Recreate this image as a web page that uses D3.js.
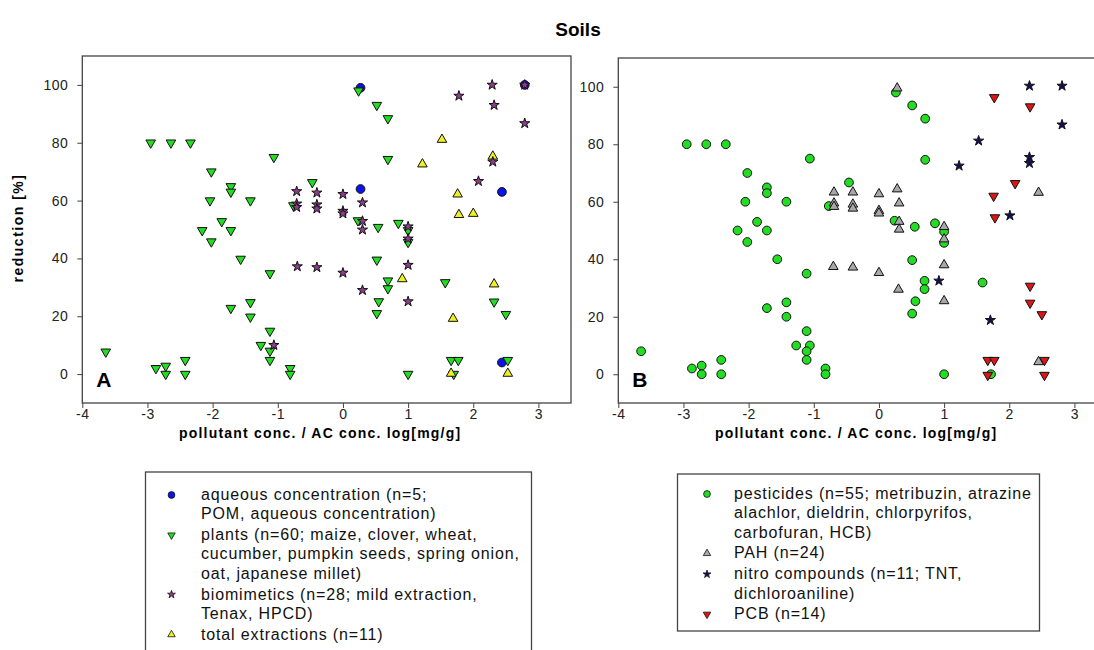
<!DOCTYPE html>
<html lang="en">
<head>
<meta charset="utf-8">
<title>Soils</title>
<style>
  body { margin: 0; background: #fff; }
  svg { display: block; font-family: "Liberation Sans", Arial, sans-serif; }
  .tick text { font-size: 14px; fill: #222; letter-spacing: 0.5px; }
  .tick line { stroke: #444; }
</style>
<script src="https://d3js.org/d3.v7.min.js"></script>
</head>
<body>
<svg id="chart" width="1094" height="650"></svg>
<script>

// ---- panel A : grouped by method ----
var aqueous = [[0.27,99],[0.27,64],[2.44,63],[2.44,4],[2.79,100]];

var plants = [[-3.64,7.7],[-2.95,80],[-2.64,80],[-2.34,80],[-2.87,2],[-2.72,2.8],[-2.72,0],
  [-2.42,4.8],[-2.42,0],[-2.02,70],[-2.04,60],[-2.16,49.7],[-2.02,45.8],[-1.86,52.8],
  [-1.72,64.9],[-1.72,63],[-1.72,49.7],[-1.72,22.8],[-1.57,39.8],[-1.42,60],[-1.42,24.8],
  [-1.42,19.8],[-1.26,10],[-1.12,34.8],[-1.12,14.9],[-1.12,8],[-1.12,4.8],[-1.06,75],
  [-0.81,2],[-0.81,0],[-0.76,58.3],[-0.47,66.3],[0.24,98],[0.52,93],[0.69,88.4],[0.69,74.3],
  [0.23,53.1],[0.54,50.8],[0.85,52.2],[1.0,49.7],[1.0,45.6],[0.52,39.5],[0.69,32.3],
  [0.69,29.6],[0.55,25.1],[0.52,21],[1.57,31.7],[2.32,25],[2.50,20.7],[1.66,4.8],
  [1.77,4.8],[1.70,0],[1.0,0],[2.53,4.8]];

var biomimetics = [[2.29,100],[2.79,100],[1.78,96.2],[2.32,93],[2.79,86.7],[2.30,73.4],
  [2.08,66.7],[-0.71,63.2],[-0.40,62.7],[-0.71,58.9],[-0.71,57.7],[-0.40,58.6],[-0.40,57.2],
  [0,62.2],[0,56.4],[0,55.5],[0.30,59.3],[0.30,52.9],[0.30,49.9],[1.0,51],[1.0,46.8],
  [1.0,37.7],[1.0,25.1],[0.30,29],[0,35],[-0.70,37.2],[-0.40,36.9],[-1.06,10]];

var totalExtr = [[1.52,81.1],[1.22,72.6],[2.30,75.3],[1.76,62.2],[1.78,55.1],[2.0,55.5],
  [0.91,32.9],[2.32,31.1],[1.69,19.2],[1.66,0.2],[2.53,0.2]];

// ---- panel B : grouped by compound class ----
var pesticides = [[-2.95,80],[-2.65,80],[-2.35,80],[-2.02,70],[-1.06,75],[-1.72,65],[-1.72,63],
  [-2.05,60],[-1.42,60],[-1.87,53],[-2.17,50],[-1.72,50],[-0.77,58.5],[-2.02,46],[-1.56,40],
  [-1.11,35],[-1.72,23],[-1.42,25],[-1.42,20],[-1.11,15],[-1.27,10],[-1.06,10],[-1.11,8],
  [-1.11,5],[-3.65,8],[-2.87,2],[-2.72,3],[-2.72,0],[-2.42,5],[-2.42,0],[-0.82,2],[-0.82,0],
  [-0.46,66.7],[0.26,98],[0.51,93.5],[0.71,88.9],[0.71,74.6],[0.24,53.4],[0.55,51.3],
  [0.86,52.5],[1.0,49.6],[1.0,45.7],[0.51,39.7],[0.70,32.5],[0.70,29.6],[0.56,25.4],
  [0.51,21.1],[1.59,31.9],[1.0,0],[1.72,0]];

var pah = [[0.28,99.5],[-0.69,63.3],[-0.40,63.3],[-0.69,59.5],[-0.69,58.3],[-0.40,59.1],
  [-0.40,57.7],[0,62.7],[0,56.9],[0,56],[0.28,64.4],[0.31,59.5],[0.31,53.1],[0.31,50.4],
  [1.0,51.3],[1.0,47],[-0.70,37.4],[-0.40,37.2],[0,35.3],[0.30,29.5],[1.0,38],[1.0,25.5],
  [2.45,63.2],[2.45,4.3]];

var nitro = [[2.31,100.3],[2.81,100.3],[2.81,86.8],[1.53,81.2],[1.23,72.5],[2.31,75.5],
  [2.31,73.4],[2.01,55.2],[0.92,32.5],[1.71,18.8]];

var pcb = [[1.77,96.3],[2.32,93.1],[2.09,66.4],[1.76,62],[1.78,54.5],[2.32,30.7],[2.32,24.8],
  [2.50,20.8],[1.67,4.9],[1.77,4.9],[1.67,-0.3],[2.54,4.9],[2.54,-0.3]];

var xTicks = [-4, -3, -2, -1, 0, 1, 2, 3];
var yTicks = [0, 20, 40, 60, 80, 100];

var legendA = [
  {shape: "circle", color: "#0a14e6", lines: ["aqueous concentration (n=5;", "POM, aqueous concentration)"]},
  {shape: "down", color: "#22dd22", lines: ["plants (n=60; maize, clover, wheat,", "cucumber, pumpkin seeds, spring onion,", "oat, japanese millet)"]},
  {shape: "star", color: "#8e3c8e", lines: ["biomimetics (n=28; mild extraction,", "Tenax, HPCD)"]},
  {shape: "up", color: "#f0f020", lines: ["total extractions (n=11)"]}
];
var legendB = [
  {shape: "circle", color: "#22dd22", lines: ["pesticides (n=55; metribuzin, atrazine", "alachlor, dieldrin, chlorpyrifos,", "carbofuran, HCB)"]},
  {shape: "up", color: "#a8a8a8", lines: ["PAH (n=24)"]},
  {shape: "star", color: "#10105a", lines: ["nitro compounds (n=11; TNT,", "dichloroaniline)"]},
  {shape: "down", color: "#dd1515", lines: ["PCB (n=14)"]}
];

var svg = d3.select("#chart");

var sizes = {circle: 60, up: 40, down: 40, star: 32};
function symPath(shape, scale) {
  var type = shape == "circle" ? d3.symbolCircle : shape == "star" ? d3.symbolStar : d3.symbolTriangle;
  return d3.symbol().type(type).size(sizes[shape] * (scale || 1))();
}

function panel(x0, x1, yTop, yBot, letter, series) {
  var x = d3.scaleLinear().domain([-4, 3.5]).range([x0, x1]);
  var y = d3.scaleLinear().domain([-10, 110]).range([yBot, yTop]);
  var g = svg.append("g");

  g.append("g").attr("transform", "translate(0," + yBot + ")")
    .call(d3.axisBottom(x).tickValues(xTicks).tickFormat(function(d) { return String(d); })
      .tickSize(5).tickSizeOuter(0).tickPadding(1))
    .call(function(a) { a.select(".domain").remove(); });
  g.append("g").attr("transform", "translate(" + x0 + ",0)")
    .call(d3.axisLeft(y).tickValues(yTicks).tickSize(5).tickSizeOuter(0).tickPadding(9))
    .call(function(a) { a.select(".domain").remove(); });

  g.append("rect").attr("x", x0).attr("y", yTop).attr("width", x1 - x0).attr("height", yBot - yTop)
    .attr("fill", "none").attr("stroke", "#444").attr("stroke-width", 1.3);

  series.forEach(function(s) {
    g.append("g").selectAll("path").data(s.data).enter().append("path")
      .attr("d", symPath(s.shape))
      .attr("transform", function(d) {
        return "translate(" + x(d[0]) + "," + y(d[1]) + ")" + (s.shape == "down" ? " rotate(180)" : "");
      })
      .attr("fill", s.color).attr("stroke", "#111").attr("stroke-width", 1);
  });

  g.append("text").attr("x", x0 + 14).attr("y", yBot - 16)
    .style("font-size", "21px").style("font-weight", "bold").text(letter);

  g.append("text").attr("x", x(-0.35)).attr("y", 438).attr("text-anchor", "middle")
    .style("font-size", "14px").style("font-weight", "bold").style("letter-spacing", "1.2px")
    .text("pollutant conc. / AC conc. log[mg/g]");
}

panel(82.3, 571, 56, 403, "A", [
  {data: aqueous, shape: "circle", color: legendA[0].color},
  {data: plants, shape: "down", color: legendA[1].color},
  {data: totalExtr, shape: "up", color: legendA[3].color},
  {data: biomimetics, shape: "star", color: legendA[2].color}
]);
panel(618.3, 1107, 58, 403, "B", [
  {data: pesticides, shape: "circle", color: legendB[0].color},
  {data: pcb, shape: "down", color: legendB[3].color},
  {data: pah, shape: "up", color: legendB[1].color},
  {data: nitro, shape: "star", color: legendB[2].color}
]);

svg.append("text").attr("x", 578).attr("y", 36).attr("text-anchor", "middle")
  .style("font-size", "19px").style("font-weight", "bold").text("Soils");

svg.append("text").attr("transform", "translate(23,228) rotate(-90)").attr("text-anchor", "middle")
  .style("font-size", "14px").style("font-weight", "bold").style("letter-spacing", "1.5px").text("reduction [%]");

function legend(bx, by, bw, bh, symX, textX, firstY, items) {
  var g = svg.append("g");
  g.append("rect").attr("x", bx).attr("y", by).attr("width", bw).attr("height", bh)
    .attr("fill", "#fff").attr("stroke", "#444").attr("stroke-width", 1.3);
  var ly = firstY;
  items.forEach(function(it) {
    g.append("path").attr("d", symPath(it.shape, 0.6))
      .attr("transform", "translate(" + symX + "," + (ly - 5) + ")" + (it.shape == "down" ? " rotate(180)" : ""))
      .attr("fill", it.color).attr("stroke", "#111").attr("stroke-width", 0.8);
    it.lines.forEach(function(t) {
      g.append("text").attr("x", textX).attr("y", ly)
        .style("font-size", "16px").style("letter-spacing", "0.85px").attr("fill", "#111").text(t);
      ly += 19.3;
    });
    ly += 1.5;
  });
}
legend(145.5, 472, 386, 200, 171.5, 201, 500, legendA);
legend(677.5, 474, 362, 157, 707, 734, 499, legendB);

</script>
</body>
</html>
